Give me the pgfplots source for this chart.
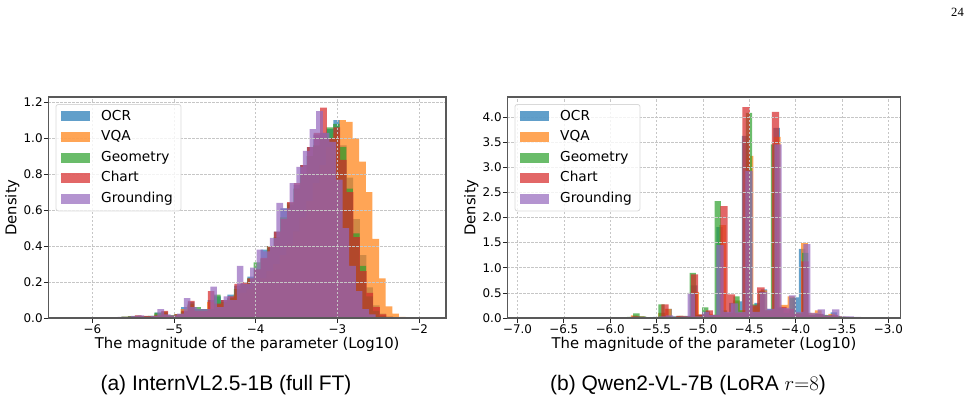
\documentclass[border=0pt]{standalone}
\usepackage{pgfplots}
\pgfplotsset{compat=1.18}
\usepackage{fontspec}
\setmainfont{DejaVu Sans}
\newfontfamily\capfont{Liberation Sans}
\newfontfamily\pnfont{Liberation Serif}
\definecolor{cOCR}{HTML}{1F77B4}
\definecolor{cVQA}{HTML}{FF7F0E}
\definecolor{cGeo}{HTML}{2CA02C}
\definecolor{cChart}{HTML}{D62728}
\definecolor{cGround}{HTML}{9467BD}
\pgfplotsset{
  histax/.style={
    scale only axis, axis on top,
    ymin=0, height=221pt,
    tick align=outside, tick pos=left,
    major tick length=4.5pt,
    tick style={black!85, line width=0.8pt},
    axis line style={black!65, line width=1.1pt},
    grid=major,
    grid style={gray!45, line width=0.7pt, dash pattern=on 2.5pt off 1.5pt},
    tick label style={font=\fontsize{11.9}{14}\selectfont},
    yticklabel style={inner xsep=1pt},
    xticklabel style={inner ysep=1.8pt},
    label style={font=\fontsize{14.8}{17}\selectfont},
    xlabel style={at={(axis description cs:0.5,0)}, anchor=base, yshift=-30.5pt},
    ylabel style={at={(axis description cs:-0.08,0.5)}, anchor=base},
    xlabel={The magnitude of the parameter (Log10)},
    ylabel={Density},
    legend image code/.code={\fill[##1, sharp corners] (0pt,-5pt) rectangle (29pt,5pt);},
    legend cell align=left,
    legend style={at={(0,1)}, anchor=north west, xshift=7.2pt, yshift=-7pt,
      draw=gray!30, line width=0.8pt, rounded corners=2.5pt, fill=white,
      fill opacity=0.8, text opacity=1, inner xsep=5.3pt, inner ysep=5.3pt,
      row sep=7.35pt, column sep=8pt, font=\fontsize{13.7}{16}\selectfont,
      nodes={inner xsep=3pt, inner ysep=0pt, text height=10.3pt, text depth=3pt}},
  },
  hist/.style={const plot, draw=none, fill=#1, fill opacity=0.7},
}
\begin{document}
\begin{tikzpicture}[x=1pt,y=1pt]
\useasboundingbox (0,0) rectangle (972,400);
% ---------------- left panel ----------------
\begin{axis}[histax, at={(48.3pt,82pt)}, anchor=south west, width=397.7pt,
  xmin=-6.54, xmax=-1.67, ymax=1.229,
  xtick={-6,-5,-4,-3,-2}, xticklabels={−6,−5,−4,−3,−2},
  ytick={0,0.2,0.4,0.6,0.8,1.0,1.2}, yticklabels={0.0,0.2,0.4,0.6,0.8,1.0,1.2}]
\addplot[hist=cOCR] coordinates {
(-6.290,0.003) (-6.209,0.002) (-6.128,0.003) (-6.047,0.002) (-5.966,0.003) (-5.885,0.004)
(-5.804,0.004) (-5.723,0.005) (-5.642,0.006) (-5.561,0.010) (-5.480,0.012) (-5.399,0.010)
(-5.318,0.012) (-5.237,0.030) (-5.156,0.030) (-5.075,0.015) (-4.994,0.020) (-4.913,0.060)
(-4.832,0.090) (-4.751,0.050) (-4.670,0.050) (-4.589,0.100) (-4.508,0.120) (-4.427,0.100)
(-4.346,0.130) (-4.265,0.180) (-4.184,0.190) (-4.103,0.230) (-4.022,0.270) (-3.941,0.380)
(-3.860,0.390) (-3.779,0.480) (-3.698,0.610) (-3.617,0.630) (-3.536,0.740) (-3.455,0.850)
(-3.374,0.950) (-3.293,1.020) (-3.212,1.030) (-3.131,1.050) (-3.050,1.100) (-2.969,0.960)
(-2.888,0.780) (-2.807,0.550) (-2.726,0.350) (-2.645,0.170) (-2.564,0.070) (-2.483,0.025)
(-2.402,0.008) (-2.321,0.002) (-2.240,0)} \closedcycle;
\addplot[hist=cVQA] coordinates {
(-6.216,0.002) (-6.135,0.001) (-6.054,0.003) (-5.973,0.002) (-5.892,0.003) (-5.811,0.004)
(-5.730,0.005) (-5.649,0.006) (-5.568,0.008) (-5.487,0.012) (-5.406,0.010) (-5.325,0.010)
(-5.244,0.020) (-5.163,0.030) (-5.082,0.015) (-5.001,0.020) (-4.920,0.050) (-4.839,0.070)
(-4.758,0.040) (-4.677,0.040) (-4.596,0.090) (-4.515,0.070) (-4.434,0.080) (-4.353,0.100)
(-4.272,0.130) (-4.191,0.140) (-4.110,0.160) (-4.029,0.190) (-3.948,0.220) (-3.867,0.260)
(-3.786,0.300) (-3.705,0.350) (-3.624,0.410) (-3.543,0.480) (-3.462,0.560) (-3.381,0.650)
(-3.300,0.750) (-3.219,0.850) (-3.138,0.950) (-3.057,1.030) (-2.976,1.100) (-2.895,1.090)
(-2.814,1.000) (-2.733,0.870) (-2.652,0.700) (-2.571,0.440) (-2.490,0.220) (-2.409,0.065)
(-2.328,0.024) (-2.247,0.006) (-2.166,0.003) (-2.085,0.002) (-2.004,0.001) (-1.923,0)} \closedcycle;
\addplot[hist=cGeo] coordinates {
(-6.212,0.002) (-6.131,0.002) (-6.050,0.003) (-5.969,0.003) (-5.888,0.004) (-5.807,0.004)
(-5.726,0.005) (-5.645,0.007) (-5.564,0.009) (-5.483,0.012) (-5.402,0.010) (-5.321,0.012)
(-5.240,0.030) (-5.159,0.035) (-5.078,0.015) (-4.997,0.020) (-4.916,0.035) (-4.835,0.080)
(-4.754,0.060) (-4.673,0.050) (-4.592,0.050) (-4.511,0.130) (-4.430,0.090) (-4.349,0.110)
(-4.268,0.160) (-4.187,0.190) (-4.106,0.220) (-4.025,0.310) (-3.944,0.330) (-3.863,0.400)
(-3.782,0.450) (-3.701,0.560) (-3.620,0.640) (-3.539,0.720) (-3.458,0.800) (-3.377,0.900)
(-3.296,0.960) (-3.215,1.000) (-3.134,1.060) (-3.053,1.080) (-2.972,0.950) (-2.891,0.720)
(-2.810,0.470) (-2.729,0.290) (-2.648,0.120) (-2.567,0.040) (-2.486,0.012) (-2.405,0.003)
(-2.324,0)} \closedcycle;
\addplot[hist=cChart] coordinates {
(-6.288,0.003) (-6.207,0.002) (-6.126,0.004) (-6.045,0.003) (-5.964,0.002) (-5.883,0.003)
(-5.802,0.004) (-5.721,0.004) (-5.640,0.006) (-5.559,0.008) (-5.478,0.015) (-5.397,0.012)
(-5.316,0.010) (-5.235,0.015) (-5.154,0.040) (-5.073,0.010) (-4.992,0.020) (-4.911,0.040)
(-4.830,0.095) (-4.749,0.040) (-4.668,0.040) (-4.587,0.150) (-4.506,0.080) (-4.425,0.100)
(-4.344,0.120) (-4.263,0.190) (-4.182,0.200) (-4.101,0.220) (-4.020,0.270) (-3.939,0.335)
(-3.858,0.400) (-3.777,0.480) (-3.696,0.550) (-3.615,0.645) (-3.534,0.750) (-3.453,0.850)
(-3.372,0.950) (-3.291,1.030) (-3.210,1.170) (-3.129,1.000) (-3.048,1.060) (-2.967,0.880)
(-2.886,0.700) (-2.805,0.450) (-2.724,0.260) (-2.643,0.140) (-2.562,0.060) (-2.481,0.020)
(-2.400,0.006) (-2.319,0.002) (-2.238,0)} \closedcycle;
\addplot[hist=cGround] coordinates {
(-6.338,0.004) (-6.257,0.002) (-6.176,0.001) (-6.095,0.003) (-6.014,0.002) (-5.933,0.003)
(-5.852,0.004) (-5.771,0.003) (-5.690,0.006) (-5.609,0.005) (-5.528,0.012) (-5.447,0.015)
(-5.366,0.008) (-5.285,0.012) (-5.204,0.050) (-5.123,0.020) (-5.042,0.015) (-4.961,0.025)
(-4.880,0.110) (-4.799,0.060) (-4.718,0.050) (-4.637,0.050) (-4.556,0.175) (-4.475,0.060)
(-4.394,0.120) (-4.313,0.100) (-4.232,0.290) (-4.151,0.190) (-4.070,0.280) (-3.989,0.380)
(-3.908,0.370) (-3.827,0.445) (-3.746,0.640) (-3.665,0.610) (-3.584,0.750) (-3.503,0.840)
(-3.422,0.930) (-3.341,1.050) (-3.260,1.150) (-3.179,1.030) (-3.098,0.980) (-3.017,0.770)
(-2.936,0.500) (-2.855,0.290) (-2.774,0.150) (-2.693,0.050) (-2.612,0.020) (-2.531,0.005)
(-2.450,0.002) (-2.369,0)} \closedcycle;
\legend{OCR,VQA,Geometry,Chart,Grounding}
\end{axis}
% ---------------- right panel ----------------
\begin{axis}[histax, at={(507.3pt,82pt)}, anchor=south west, width=393.4pt,
  xmin=-7.11, xmax=-2.867, ymax=4.404,
  xtick={-7,-6.5,-6,-5.5,-5,-4.5,-4,-3.5,-3},
  xticklabels={−7.0,−6.5,−6.0,−5.5,−5.0,−4.5,−4.0,−3.5,−3.0},
  ytick={0,0.5,1,1.5,2,2.5,3,3.5,4}, yticklabels={0.0,0.5,1.0,1.5,2.0,2.5,3.0,3.5,4.0},
  ylabel style={at={(axis description cs:-0.081,0.5)}}]
\addplot[hist=cOCR] coordinates {
(-6.910,0.005) (-6.842,0.003) (-6.773,0.004) (-6.705,0.003) (-6.636,0.005) (-6.568,0.004)
(-6.499,0.005) (-6.431,0.006) (-6.362,0.004) (-6.294,0.008) (-6.225,0.005) (-6.157,0.006)
(-6.088,0.008) (-6.020,0.010) (-5.951,0.008) (-5.883,0.012) (-5.814,0.015) (-5.746,0.030)
(-5.677,0.020) (-5.609,0.010) (-5.540,0.020) (-5.472,0.100) (-5.403,0.180) (-5.335,0.030)
(-5.266,0.030) (-5.198,0.040) (-5.129,0.650) (-5.061,0.060) (-4.992,0.130) (-4.924,0.050)
(-4.855,1.810) (-4.787,0.100) (-4.718,0.300) (-4.650,0.330) (-4.581,3.630) (-4.513,0.100)
(-4.444,0.300) (-4.376,0.570) (-4.307,0.180) (-4.239,3.790) (-4.170,0.200) (-4.102,0.150)
(-4.033,0.410) (-3.965,1.380) (-3.896,0.100) (-3.828,0.080) (-3.759,0.070) (-3.691,0.050)
(-3.622,0.110) (-3.554,0.030) (-3.485,0.020) (-3.417,0.010) (-3.348,0)} \closedcycle;
\addplot[hist=cVQA] coordinates {
(-6.880,0.004) (-6.807,0.003) (-6.733,0.004) (-6.660,0.003) (-6.586,0.005) (-6.513,0.004)
(-6.439,0.006) (-6.366,0.004) (-6.292,0.006) (-6.219,0.005) (-6.145,0.008) (-6.072,0.006)
(-5.998,0.010) (-5.925,0.008) (-5.851,0.015) (-5.778,0.050) (-5.704,0.030) (-5.631,0.010)
(-5.557,0.010) (-5.484,0.100) (-5.410,0.180) (-5.337,0.020) (-5.263,0.040) (-5.190,0.030)
(-5.116,0.520) (-5.043,0.050) (-4.969,0.080) (-4.896,0.050) (-4.822,1.850) (-4.749,0.100)
(-4.675,0.350) (-4.602,0.150) (-4.528,3.230) (-4.455,0.220) (-4.381,0.550) (-4.308,0.150)
(-4.234,3.610) (-4.161,0.260) (-4.087,0.430) (-4.014,0.100) (-3.940,1.490) (-3.867,0.100)
(-3.793,0.150) (-3.720,0.050) (-3.646,0.080) (-3.573,0.030) (-3.499,0.020) (-3.426,0.010)
(-3.352,0.005) (-3.279,0)} \closedcycle;
\addplot[hist=cGeo] coordinates {
(-6.899,0.010) (-6.832,0.002) (-6.764,0.005) (-6.697,0.002) (-6.629,0.005) (-6.562,0.005)
(-6.494,0.002) (-6.427,0.010) (-6.359,0.005) (-6.292,0.005) (-6.224,0.005) (-6.157,0.010)
(-6.089,0.005) (-6.022,0.010) (-5.954,0.005) (-5.887,0.010) (-5.819,0.020) (-5.752,0.090)
(-5.684,0.030) (-5.617,0.010) (-5.549,0.010) (-5.482,0.270) (-5.414,0.040) (-5.347,0.020)
(-5.279,0.040) (-5.212,0.030) (-5.144,0.900) (-5.077,0.060) (-5.009,0.210) (-4.942,0.060)
(-4.874,2.330) (-4.807,0.150) (-4.739,0.100) (-4.672,0.430) (-4.604,0.150) (-4.537,4.090)
(-4.469,0.270) (-4.402,0.540) (-4.334,0.150) (-4.267,3.460) (-4.199,0.200) (-4.132,0.100)
(-4.064,0.400) (-3.997,0.100) (-3.929,1.300) (-3.862,0.050) (-3.794,0.080) (-3.727,0.060)
(-3.659,0.050) (-3.592,0.040) (-3.524,0.020) (-3.457,0)} \closedcycle;
\addplot[hist=cChart] coordinates {
(-6.880,0.005) (-6.800,0.003) (-6.721,0.004) (-6.641,0.003) (-6.562,0.005) (-6.482,0.004)
(-6.403,0.006) (-6.323,0.004) (-6.244,0.006) (-6.164,0.005) (-6.085,0.008) (-6.005,0.006)
(-5.926,0.010) (-5.846,0.010) (-5.767,0.030) (-5.687,0.020) (-5.608,0.010) (-5.528,0.010)
(-5.449,0.270) (-5.369,0.020) (-5.290,0.040) (-5.210,0.030) (-5.131,0.870) (-5.051,0.070)
(-4.972,0.150) (-4.892,0.060) (-4.813,2.230) (-4.733,0.470) (-4.654,0.100) (-4.574,4.200)
(-4.495,0.250) (-4.415,0.610) (-4.336,0.150) (-4.256,4.110) (-4.177,0.220) (-4.097,0.180)
(-4.018,0.080) (-3.938,1.130) (-3.859,0.060) (-3.779,0.080) (-3.700,0.040) (-3.620,0.060)
(-3.541,0.020) (-3.461,0.010) (-3.382,0.005) (-3.302,0)} \closedcycle;
\addplot[hist=cGround] coordinates {
(-6.960,0.005) (-6.882,0.003) (-6.804,0.004) (-6.726,0.003) (-6.648,0.005) (-6.570,0.004)
(-6.492,0.005) (-6.414,0.004) (-6.336,0.006) (-6.258,0.005) (-6.180,0.006) (-6.102,0.008)
(-6.024,0.008) (-5.946,0.010) (-5.868,0.010) (-5.790,0.020) (-5.712,0.020) (-5.634,0.010)
(-5.556,0.010) (-5.478,0.030) (-5.400,0.050) (-5.322,0.020) (-5.244,0.030) (-5.166,0.500)
(-5.088,0.030) (-5.010,0.120) (-4.932,0.060) (-4.854,1.450) (-4.776,0.120) (-4.698,0.290)
(-4.620,0.120) (-4.542,2.930) (-4.464,0.120) (-4.386,0.520) (-4.308,0.180) (-4.230,3.460)
(-4.152,0.200) (-4.074,0.450) (-3.996,0.120) (-3.918,1.470) (-3.840,0.100) (-3.762,0.170)
(-3.684,0.050) (-3.606,0.170) (-3.528,0.030) (-3.450,0.030) (-3.372,0.020) (-3.294,0.010)
(-3.216,0.005) (-3.138,0.005) (-3.060,0)} \closedcycle;
\legend{OCR,VQA,Geometry,Chart,Grounding}
\end{axis}
% ---------------- captions and page number ----------------
\node[font=\capfont\fontsize{21}{24}\selectfont, anchor=base] at (226,9.5) {(a) InternVL2.5-1B (full FT)};
\node[font=\capfont\fontsize{21}{24}\selectfont, anchor=base] at (688,9.5) {(b) Qwen2-VL-7B (LoRA $r{=}8$)};
\node[font=\pnfont\fontsize{12.6}{14}\selectfont, anchor=base] at (957.5,383.3) {24};
\end{tikzpicture}
\end{document}
